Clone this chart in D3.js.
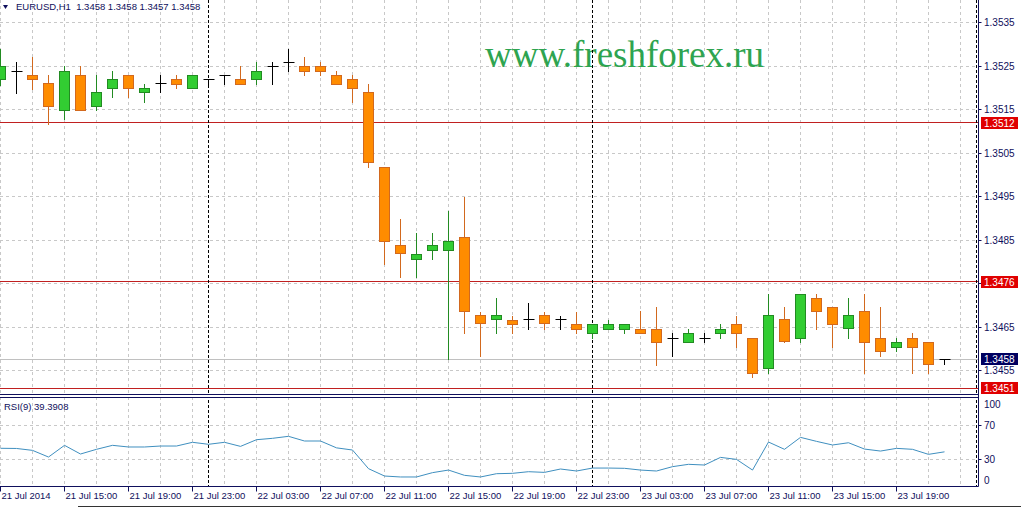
<!DOCTYPE html>
<html>
<head>
<meta charset="utf-8">
<script src="https://cdn.jsdelivr.net/npm/d3@7"></script>
<style>
  body { margin: 0; background: #fff; }
  svg { display: block; font-family: "Liberation Sans", Arial, sans-serif; }
</style>
</head>
<body>
<div id="chart"></div>
<script>
// EURUSD H1 bars, 21 Jul 11:00 .. 23 Jul 22:00
var opens  = [1.35220,1.35238,1.35229,1.35209,1.35148,1.35229,1.35157,1.35199,1.35229,1.35190,
              1.35209,1.35220,1.35199,1.35220,1.35229,1.35220,1.35220,1.35250,1.35259,1.35250,
              1.35250,1.35229,1.35220,1.35190,1.35017,1.34837,1.34806,1.34826,1.34826,1.34857,
              1.34676,1.34666,1.34666,1.34667,1.34676,1.34667,1.34657,1.34636,1.34645,1.34645,
              1.34645,1.34645,1.34625,1.34616,1.34625,1.34636,1.34656,1.34625,1.34555,1.34667,
              1.34625,1.34717,1.34696,1.34645,1.34687,1.34625,1.34605,1.34625,1.34616,1.34577];
var highs  = [1.35288,1.35259,1.35270,1.35229,1.35250,1.35250,1.35229,1.35238,1.35229,1.35209,
              1.35229,1.35229,1.35229,1.35220,1.35229,1.35250,1.35259,1.35259,1.35288,1.35270,
              1.35259,1.35238,1.35229,1.35209,1.35017,1.34898,1.34866,1.34866,1.34917,1.34949,
              1.34686,1.34717,1.34676,1.34705,1.34686,1.34676,1.34686,1.34657,1.34667,1.34657,
              1.34687,1.34697,1.34636,1.34645,1.34636,1.34658,1.34676,1.34625,1.34726,1.34697,
              1.34726,1.34726,1.34696,1.34717,1.34726,1.34697,1.34625,1.34636,1.34616,1.34577];
var lows   = [1.35206,1.35189,1.35198,1.35118,1.35128,1.35148,1.35148,1.35178,1.35178,1.35168,
              1.35190,1.35199,1.35199,1.35209,1.35209,1.35209,1.35209,1.35209,1.35238,1.35229,
              1.35229,1.35209,1.35168,1.35017,1.34795,1.34766,1.34766,1.34806,1.34576,1.34636,
              1.34585,1.34636,1.34636,1.34645,1.34645,1.34645,1.34636,1.34625,1.34645,1.34636,
              1.34636,1.34563,1.34585,1.34616,1.34616,1.34625,1.34605,1.34535,1.34544,1.34616,
              1.34616,1.34645,1.34605,1.34625,1.34544,1.34585,1.34595,1.34544,1.34544,1.34565];
var closes = [1.35250,1.35238,1.35219,1.35157,1.35238,1.35148,1.35190,1.35220,1.35199,1.35199,
              1.35209,1.35209,1.35229,1.35220,1.35229,1.35209,1.35238,1.35250,1.35259,1.35238,
              1.35238,1.35209,1.35199,1.35029,1.34847,1.34818,1.34818,1.34837,1.34847,1.34686,
              1.34657,1.34676,1.34657,1.34667,1.34657,1.34667,1.34645,1.34657,1.34657,1.34657,
              1.34636,1.34616,1.34625,1.34636,1.34625,1.34645,1.34636,1.34544,1.34676,1.34616,
              1.34726,1.34686,1.34658,1.34676,1.34616,1.34595,1.34616,1.34605,1.34565,1.34577];

// RSI(9)
var rsiValues = [43.5,43.3,41.1,33.4,46.9,36.9,42.3,46.9,45.0,45.0,
                 46.1,46.1,50.4,48.1,50.4,45.7,53.4,55.0,57.3,51.9,
                 51.9,44.0,41.5,20.0,11.5,10.4,10.4,15.4,18.4,12.3,
                 10.4,14.2,14.6,16.5,15.7,19.6,17.3,20.7,20.7,20.4,
                 18.4,17.3,22.3,25.0,24.2,33.0,30.7,18.4,50.7,42.3,
                 56.1,51.5,47.3,49.9,42.6,40.3,43.4,42.3,36.5,39.4];

var timeLabels = ["21 Jul 2014","21 Jul 15:00","21 Jul 19:00","21 Jul 23:00","22 Jul 03:00",
                  "22 Jul 07:00","22 Jul 11:00","22 Jul 15:00","22 Jul 19:00","22 Jul 23:00",
                  "23 Jul 03:00","23 Jul 07:00","23 Jul 11:00","23 Jul 15:00","23 Jul 19:00"];
var daySeparators = [13, 37, 61];   // bar index of 22 Jul 00:00, 23 Jul 00:00, 24 Jul 00:00

var priceTicks = [1.3535,1.3525,1.3515,1.3505,1.3495,1.3485,1.3475,1.3465,1.3455];
var levelValues = [1.3512, 1.34755, 1.3451];
var levelLabels = ["1.3512", "1.3476", "1.3451"];
var bidValue = 1.34577, bidLabel = "1.3458";

var rsiTicks = [100, 70, 30, 0];

var width = 1021, height = 509,
    axisX = 978.5,
    mainTop = 0, mainBottom = 394,
    rsiTop = 397, rsiBottom = 486.5;

var navy = "#0f0f5c", gridColor = "#c8c8c8";

var x = d3.scaleLinear().domain([0, 61]).range([0.5, 976.5]);
var y = d3.scaleLinear().domain([1.3451, 1.3535]).range([388.2, 22.5]);
var yr = d3.scaleLinear().domain([0, 100]).range([486, 399.3]);

var bars = opens.map((o, i) => ({i: i, o: o, h: highs[i], l: lows[i], c: closes[i]}));

var svg = d3.select("#chart").append("svg")
    .attr("width", width).attr("height", height);

function snap(v) { return Math.round(v - 0.5) + 0.5; }

// grid
var grid = svg.append("g");
var gridBars = d3.range(0, 61, 2);
grid.selectAll(".vgrid").data(gridBars).enter().append("line")
    .attr("x1", d => snap(x(d))).attr("x2", d => snap(x(d)))
    .attr("y1", mainTop).attr("y2", mainBottom)
    .attr("stroke", gridColor).attr("stroke-dasharray", "3,3");
grid.selectAll(".vgrid2").data(gridBars).enter().append("line")
    .attr("x1", d => snap(x(d))).attr("x2", d => snap(x(d)))
    .attr("y1", rsiTop).attr("y2", rsiBottom)
    .attr("stroke", gridColor).attr("stroke-dasharray", "3,3");
grid.selectAll(".hgrid").data(priceTicks).enter().append("line")
    .attr("x1", 0).attr("x2", axisX)
    .attr("y1", d => snap(y(d))).attr("y2", d => snap(y(d)))
    .attr("stroke", gridColor).attr("stroke-dasharray", "3,3");
grid.selectAll(".rgrid").data([70, 30]).enter().append("line")
    .attr("x1", 0).attr("x2", axisX)
    .attr("y1", d => snap(yr(d))).attr("y2", d => snap(yr(d)))
    .attr("stroke", gridColor).attr("stroke-dasharray", "3,3");

// watermark
svg.append("text").attr("x", 485).attr("y", 67)
    .style("font-family", "'Liberation Serif', 'Times New Roman', serif")
    .style("font-size", "37px").attr("fill", "#2ea450")
    .text("www.freshforex.ru");

// bid line
svg.append("line").attr("x1", 0).attr("x2", axisX)
    .attr("y1", snap(y(bidValue))).attr("y2", snap(y(bidValue)))
    .attr("stroke", "#c0c0c0");

// horizontal levels
svg.selectAll(".level").data(levelValues).enter().append("line")
    .attr("x1", 0).attr("x2", axisX)
    .attr("y1", d => snap(y(d))).attr("y2", d => snap(y(d)))
    .attr("stroke", "#c02020");

// day separators
svg.selectAll(".sep").data(daySeparators).enter().append("line")
    .attr("x1", d => snap(x(d))).attr("x2", d => snap(x(d)))
    .attr("y1", 0).attr("y2", rsiBottom)
    .attr("stroke", "#000").attr("stroke-dasharray", "3,2");

// candles
var candle = svg.append("g").selectAll(".candle").data(bars).enter().append("g");
function barColor(d) { return d.c > d.o ? "#228b22" : (d.c < d.o ? "#d2691e" : "#000"); }
function barFill(d) { return d.c > d.o ? "#32cd32" : "#ff8c00"; }

candle.append("line")
    .attr("x1", d => snap(x(d.i))).attr("x2", d => snap(x(d.i)))
    .attr("y1", d => Math.round(y(d.h))).attr("y2", d => Math.round(y(d.l)) + 1)
    .attr("stroke", barColor);
candle.filter(d => d.o != d.c).append("rect")
    .attr("x", d => snap(x(d.i)) - 5)
    .attr("y", d => snap(y(Math.max(d.o, d.c))))
    .attr("width", 10)
    .attr("height", d => Math.max(1, Math.round(y(Math.min(d.o, d.c)) - y(Math.max(d.o, d.c)))))
    .attr("fill", barFill).attr("stroke", barColor);
candle.filter(d => d.o == d.c).append("line")
    .attr("x1", d => snap(x(d.i)) - 5).attr("x2", d => snap(x(d.i)) + 6)
    .attr("y1", d => snap(y(d.o))).attr("y2", d => snap(y(d.o)))
    .attr("stroke", "#000");

// RSI line
var rsiLine = d3.line().x((d, i) => x(i)).y(d => yr(d));
svg.append("path").datum(rsiValues)
    .attr("d", rsiLine).attr("fill", "none")
    .attr("stroke", "#3f8fbf").attr("stroke-width", 1);

// panel borders
svg.append("rect").attr("x", 0).attr("y", 394).attr("width", axisX).attr("height", 3.5).attr("fill", "#fff");
svg.append("line").attr("x1", 0).attr("x2", axisX).attr("y1", 394.5).attr("y2", 394.5).attr("stroke", navy);
svg.append("line").attr("x1", 0).attr("x2", axisX).attr("y1", 397.5).attr("y2", 397.5).attr("stroke", navy);
svg.append("line").attr("x1", 0).attr("x2", axisX).attr("y1", rsiBottom).attr("y2", rsiBottom).attr("stroke", navy);
svg.append("line").attr("x1", axisX).attr("x2", axisX).attr("y1", 0).attr("y2", rsiBottom).attr("stroke", navy);
svg.append("line").attr("x1", 78).attr("x2", width).attr("y1", 506.5).attr("y2", 506.5).attr("stroke", "#333");

// price axis
var priceAxis = svg.append("g");
priceAxis.selectAll(".ptick").data(priceTicks).enter().append("line")
    .attr("x1", axisX).attr("x2", axisX + 3)
    .attr("y1", d => snap(y(d))).attr("y2", d => snap(y(d)))
    .attr("stroke", navy);
priceAxis.selectAll(".plabel").data(priceTicks).enter().append("text")
    .attr("x", 984).attr("y", d => y(d) + 3.5)
    .style("font-size", "10px").attr("fill", navy)
    .text(d => d3.format(".4f")(d));

// level boxes
var levelBox = svg.selectAll(".lbox").data(levelValues).enter().append("g");
levelBox.append("rect")
    .attr("x", 981).attr("y", d => Math.round(y(d)) - 6)
    .attr("width", 37).attr("height", 12).attr("fill", "#e00000");
levelBox.append("text")
    .attr("x", 984).attr("y", d => Math.round(y(d)) + 4)
    .style("font-size", "10px").attr("fill", "#fff")
    .text((d, i) => levelLabels[i]);

svg.append("rect").attr("x", 981).attr("y", Math.round(y(bidValue)) - 6)
    .attr("width", 37).attr("height", 12).attr("fill", "#000060");
svg.append("text").attr("x", 984).attr("y", Math.round(y(bidValue)) + 4)
    .style("font-size", "10px").attr("fill", "#fff").text(bidLabel);

// RSI axis
svg.selectAll(".rtick").data([70, 30]).enter().append("line")
    .attr("x1", axisX).attr("x2", axisX + 3)
    .attr("y1", d => snap(yr(d))).attr("y2", d => snap(yr(d)))
    .attr("stroke", navy);
svg.selectAll(".rlabel").data(rsiTicks).enter().append("text")
    .attr("x", 984)
    .attr("y", d => Math.min(rsiBottom - 3, Math.max(rsiTop + 11, yr(d) + 3.5)))
    .style("font-size", "10px").attr("fill", navy)
    .text(d => d);

// time axis
var timeTicks = timeLabels.map((t, i) => i * 4);
svg.selectAll(".ttick").data(timeTicks).enter().append("line")
    .attr("x1", d => snap(x(d))).attr("x2", d => snap(x(d)))
    .attr("y1", rsiBottom).attr("y2", rsiBottom + 5)
    .attr("stroke", navy);
svg.selectAll(".tlabel").data(timeTicks).enter().append("text")
    .attr("x", d => x(d) + 1).attr("y", 499)
    .style("font-size", "9.5px").attr("fill", navy)
    .text((d, i) => timeLabels[i]);

// titles
svg.append("path").attr("d", "M3,5L8,5L5.5,9Z").attr("fill", navy);
svg.append("text").attr("x", 16).attr("y", 10)
    .style("font-size", "9.5px").attr("fill", navy)
    .attr("xml:space", "preserve")
    .text("EURUSD,H1  1.3458 1.3458 1.3457 1.3458");
svg.append("text").attr("x", 4).attr("y", 410)
    .style("font-size", "9.5px").attr("fill", navy)
    .text("RSI(9) " + "39.3908");
</script>
</body>
</html>
